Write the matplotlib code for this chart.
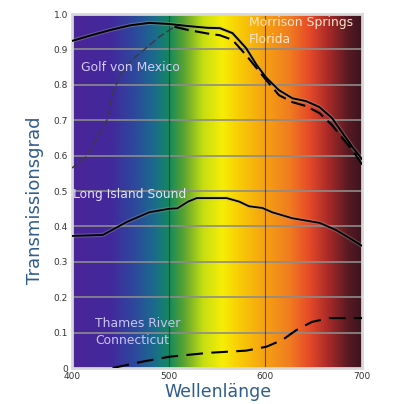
import numpy as np
import matplotlib.pyplot as plt
from matplotlib.colors import LinearSegmentedColormap

# spectrum colours across the visible range
spec_nm = [400, 440, 465, 485, 500, 515, 535, 555, 575, 600, 625, 645, 665, 685, 700]
spec_col = ['#4b2598', '#42299c', '#2c4a9c', '#1a6c8c', '#138a5c', '#5aa232', '#c6de12',
            '#f6ee04', '#f8c806', '#f5a012', '#f07c20', '#e64a28', '#a82a28', '#5a1a22', '#3a1420']

# solid curve starting high (top)
top_nm = [400, 420, 440, 460, 480, 500, 520, 540, 553, 566, 580, 591, 601, 614, 628, 642, 656, 669, 679, 690, 700]
top_t = [0.924, 0.94, 0.955, 0.968, 0.975, 0.972, 0.966, 0.961, 0.96, 0.946, 0.904, 0.856, 0.82, 0.785,
         0.762, 0.754, 0.737, 0.706, 0.667, 0.624, 0.59]

# dashed curve rising from 0.56
rise_nm = [400, 416, 428, 436, 442, 450, 462, 475, 490, 506, 520, 540, 553, 566, 580, 591, 601, 614,
           628, 642, 656, 669, 679, 690, 700]
rise_t = [0.565, 0.60, 0.66, 0.70, 0.775, 0.83, 0.87, 0.90, 0.935, 0.964, 0.955, 0.945, 0.94, 0.927,
          0.884, 0.847, 0.813, 0.771, 0.751, 0.74, 0.72, 0.686, 0.652, 0.616, 0.575]

# Long Island Sound
lis_nm = [400, 432, 457, 480, 501, 509, 520, 529, 560, 573, 583, 597, 607, 628, 656, 673, 690, 700]
lis_t = [0.373, 0.376, 0.413, 0.44, 0.45, 0.451, 0.47, 0.48, 0.48, 0.47, 0.457, 0.452, 0.44, 0.423,
         0.41, 0.39, 0.362, 0.345]

# Thames River
thames_nm = [442, 473, 501, 542, 580, 601, 618, 632, 648, 666, 700]
thames_t = [0.0, 0.018, 0.032, 0.043, 0.049, 0.06, 0.08, 0.107, 0.13, 0.141, 0.141]

fig = plt.figure(figsize=(3.97, 4.04), dpi=100)
ax = fig.add_axes([0.1814, 0.0891, 0.7305, 0.8762])

stops = [(n - 400) / 300 for n in spec_nm]
cmap = LinearSegmentedColormap.from_list('spec', list(zip(stops, spec_col)))
grad = np.linspace(0, 1, 600).reshape(1, -1)
ax.imshow(grad, cmap=cmap, extent=[400, 700, 0, 1], aspect='auto', zorder=0)

# grid
for yv in np.arange(0.1, 1.0, 0.1):
    ax.axhline(yv, color='#8c8c8c', lw=1.4, alpha=0.85, zorder=1)
for xv in [500, 600]:
    ax.axvline(xv, color='#2a2a2a', lw=0.8, alpha=0.7, zorder=1)

# curves
ax.plot(top_nm, top_t, color='#aaaaaa', lw=3, alpha=0.35, zorder=2)
ax.plot(top_nm, top_t, color='black', lw=1.4, zorder=3)
peak = rise_nm.index(506)
ax.plot(rise_nm[:peak + 1], rise_t[:peak + 1], color='#3a3a4a', lw=1.1, ls=(0, (5, 2)), zorder=3)
ax.plot(rise_nm[peak:], rise_t[peak:], color='black', lw=1.5, ls=(0, (7, 3)), zorder=3)
ax.plot(lis_nm, lis_t, color='#aaaaaa', lw=3, alpha=0.3, zorder=2)
ax.plot(lis_nm, lis_t, color='black', lw=1.3, zorder=3)
ax.plot(thames_nm, thames_t, color='black', lw=1.5, ls=(0, (8, 4)), zorder=3)

# labels inside the plot
fs = 8.9
ax.text(409, 0.849, 'Golf von Mexico', color='#d6ccf4', fontsize=fs, va='center', zorder=4)
ax.text(583, 0.975, 'Morrison Springs', color='#f8e6cc', fontsize=fs, va='center', zorder=4)
ax.text(583, 0.927, 'Florida', color='#f8e6cc', fontsize=fs, va='center', zorder=4)
ax.text(401, 0.489, 'Long Island Sound', color='#e4e2f8', fontsize=fs, va='center', zorder=4)
ax.text(424, 0.127, 'Thames River', color='#ccc4f2', fontsize=fs, va='center', zorder=4)
ax.text(424, 0.079, 'Connecticut', color='#ccc4f2', fontsize=fs, va='center', zorder=4)

ax.set_xlim(400, 700)
ax.set_ylim(0, 1)
ax.set_xticks([400, 500, 600, 700])
ax.set_xticklabels(['400', '500', '600', '700'])
ax.set_yticks(np.round(np.arange(0, 1.01, 0.1), 1))
ax.set_yticklabels(['0'] + ['%.1f' % v for v in np.arange(0.1, 1.01, 0.1)])
ax.tick_params(length=0, labelsize=6.5, labelcolor='#333333', pad=3)
for s in ax.spines.values():
    s.set_color('#d8d8d8')
    s.set_linewidth(2)

fig.text(0.088, 0.505, 'Transmissionsgrad', rotation=90, color='#2e5c8e', fontsize=13,
         ha='center', va='center')
fig.text(0.55, 0.03, 'Wellenlänge', color='#2e5c8e', fontsize=12.5, ha='center', va='center')

fig.savefig('out.png', dpi=100)
